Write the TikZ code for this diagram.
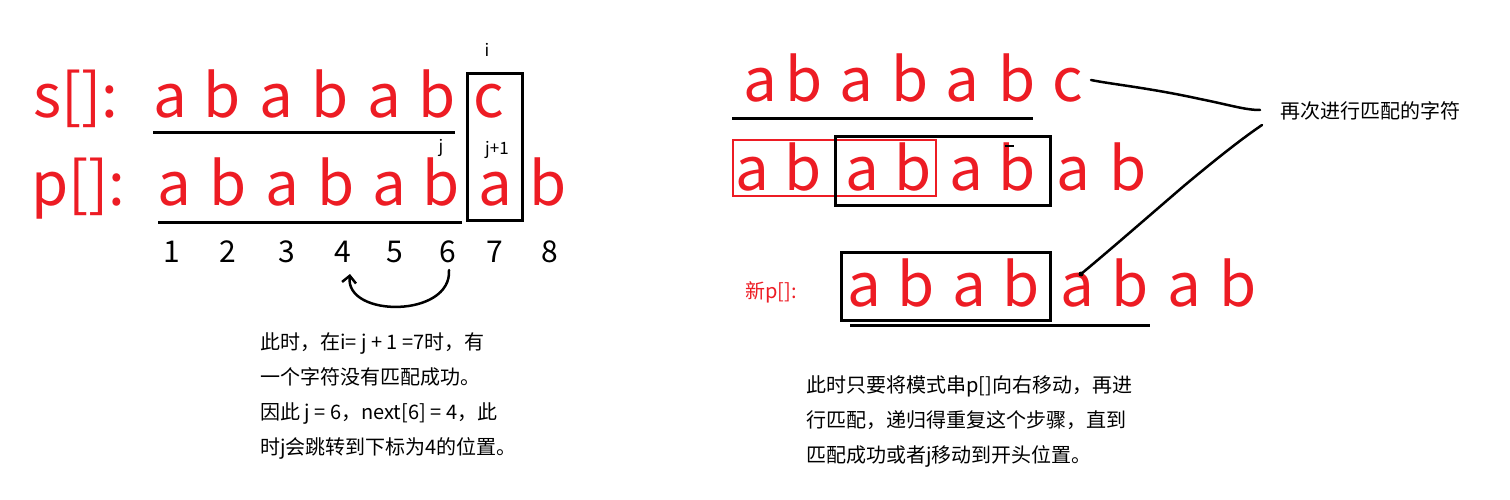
\documentclass[tikz,border=0pt]{standalone}
\usepackage{fontspec}
\setmainfont{Noto Sans CJK SC}
\usetikzlibrary{arrows.meta}
\definecolor{pred}{HTML}{ED1C24}
\begin{document}
\begin{tikzpicture}[x=1pt,y=-1pt,
  big/.style={text=pred,font=\fontsize{60}{60}\selectfont,anchor=base,inner sep=0pt},
  lbl/.style={text=pred,font=\fontsize{60}{60}\selectfont,anchor=base west,inner sep=0pt},
  num/.style={font=\fontsize{30}{30}\selectfont,anchor=base,inner sep=0pt},
  small/.style={font=\fontsize{20}{20}\selectfont,anchor=base west,inner sep=0pt},
  tiny/.style={font=\fontsize{17}{17}\selectfont,anchor=base,inner sep=0pt},
  rulel/.style={line width=3pt},
  boxl/.style={draw=black,line width=3pt},
  rbox/.style={draw=pred,line width=2.5pt},
  hand/.style={line width=2.5pt,line cap=round,line join=round}]
\useasboundingbox (0,0) rectangle (1510,500);

% ---------- left part ----------
\node[lbl] (slbl) at (33,118) {s[]:};
\node[lbl] (plbl) at (31,205) {p[]:};
\foreach \x/\c/\n in {170/a/s1,222/b/s2,276/a/s3,330/b/s4,384/a/s5,437/b/s6,489/c/s7}
  \node[big] (\n) at (\x,118) {\c};
\foreach \x/\c/\n in {174/a/p1,228/b/p2,282/a/p3,336/b/p4,389/a/p5,441/b/p6,495/a/p7,548/b/p8}
  \node[big,text height=0.55em] (\n) at (\x,205) {\c};
\draw[rulel] (153,133) -- (455,133);
\draw[rulel] (158,222) -- (462,222);
\draw[boxl] (467,74) rectangle (522,220);
\node[tiny] (ilbl) at (487,57) {i};
\node[tiny] (jlbl) at (441,153) {j};
\node[tiny] (j1lbl) at (497,155) {j+1};
\foreach \x/\d in {172/1,228/2,287/3,343/4,395/5,448/6,495/7,550/8}
  \node[num] (n\d) at (\x,262) {\d};
\draw[hand,-{Straight Barb[length=7pt,width=14pt,line width=2.5pt]}] (449,270) .. controls (452,318) and (345,318) .. (350,274);
\node[small] (t1) at (260,349) {此时，在i= j + 1 =7时，有};
\node[small] (t2) at (260,384) {一个字符没有匹配成功。};
\node[small] (t3) at (260,419) {因此 j = 6，next[6] = 4，此};
\node[small] (t4) at (260,454) {时j会跳转到下标为4的位置。};

% ---------- right part ----------
\foreach \x/\c/\n in {760/a/r1,804/b/r2,856/a/r3,910/b/r4,962/a/r5,1017/b/r6,1068/c/r7}
  \node[big] (\n) at (\x,102) {\c};
\draw[rulel] (732,119) -- (1033,119);
\foreach \x/\c/\n in {752/a/q1,803/b/q2,862/a/q3,913/b/q4,966/a/q5,1017/b/q6,1073/a/q7,1128/b/q8}
  \node[big] (\n) at (\x,190) {\c};
\draw[rbox] (733,140) rectangle (936,196);
\draw[boxl] (835,137) rectangle (1050,205);
\draw[line width=1.5pt] (1005,146) -- (1014,146);
\node[small,text=pred] (newp) at (745,298) {新p[]:};
\foreach \x/\c/\n in {864/a/u1,916/b/u2,969/a/u3,1021/b/u4,1077/a/u5,1130/b/u6,1184/a/u7,1238/b/u8}
  \node[big] (\n) at (\x,306) {\c};
\draw[boxl] (841,252) rectangle (1050,320);
\draw[rulel] (850,325) -- (1150,325);
\node[small] (note) at (1280,119) {再次进行匹配的字符};
\coordinate (c1) at (1091,80);
\coordinate (c2) at (1081,274);
\draw[hand] (c1) .. controls (1110,84) and (1150,88) .. (1200,99) .. controls (1230,105) and (1245,110) .. (1260,110);
\draw[hand] (1262,125) .. controls (1240,140) and (1215,160) .. (1185,185) .. controls (1150,215) and (1110,250) .. (c2);
\fill (c2) circle (2.5pt);
\node[small] (r1t) at (806,392) {此时只要将模式串p[]向右移动，再进};
\node[small] (r2t) at (806,427) {行匹配，递归得重复这个步骤，直到};
\node[small] (r3t) at (806,462) {匹配成功或者j移动到开头位置。};
\end{tikzpicture}
\end{document}
